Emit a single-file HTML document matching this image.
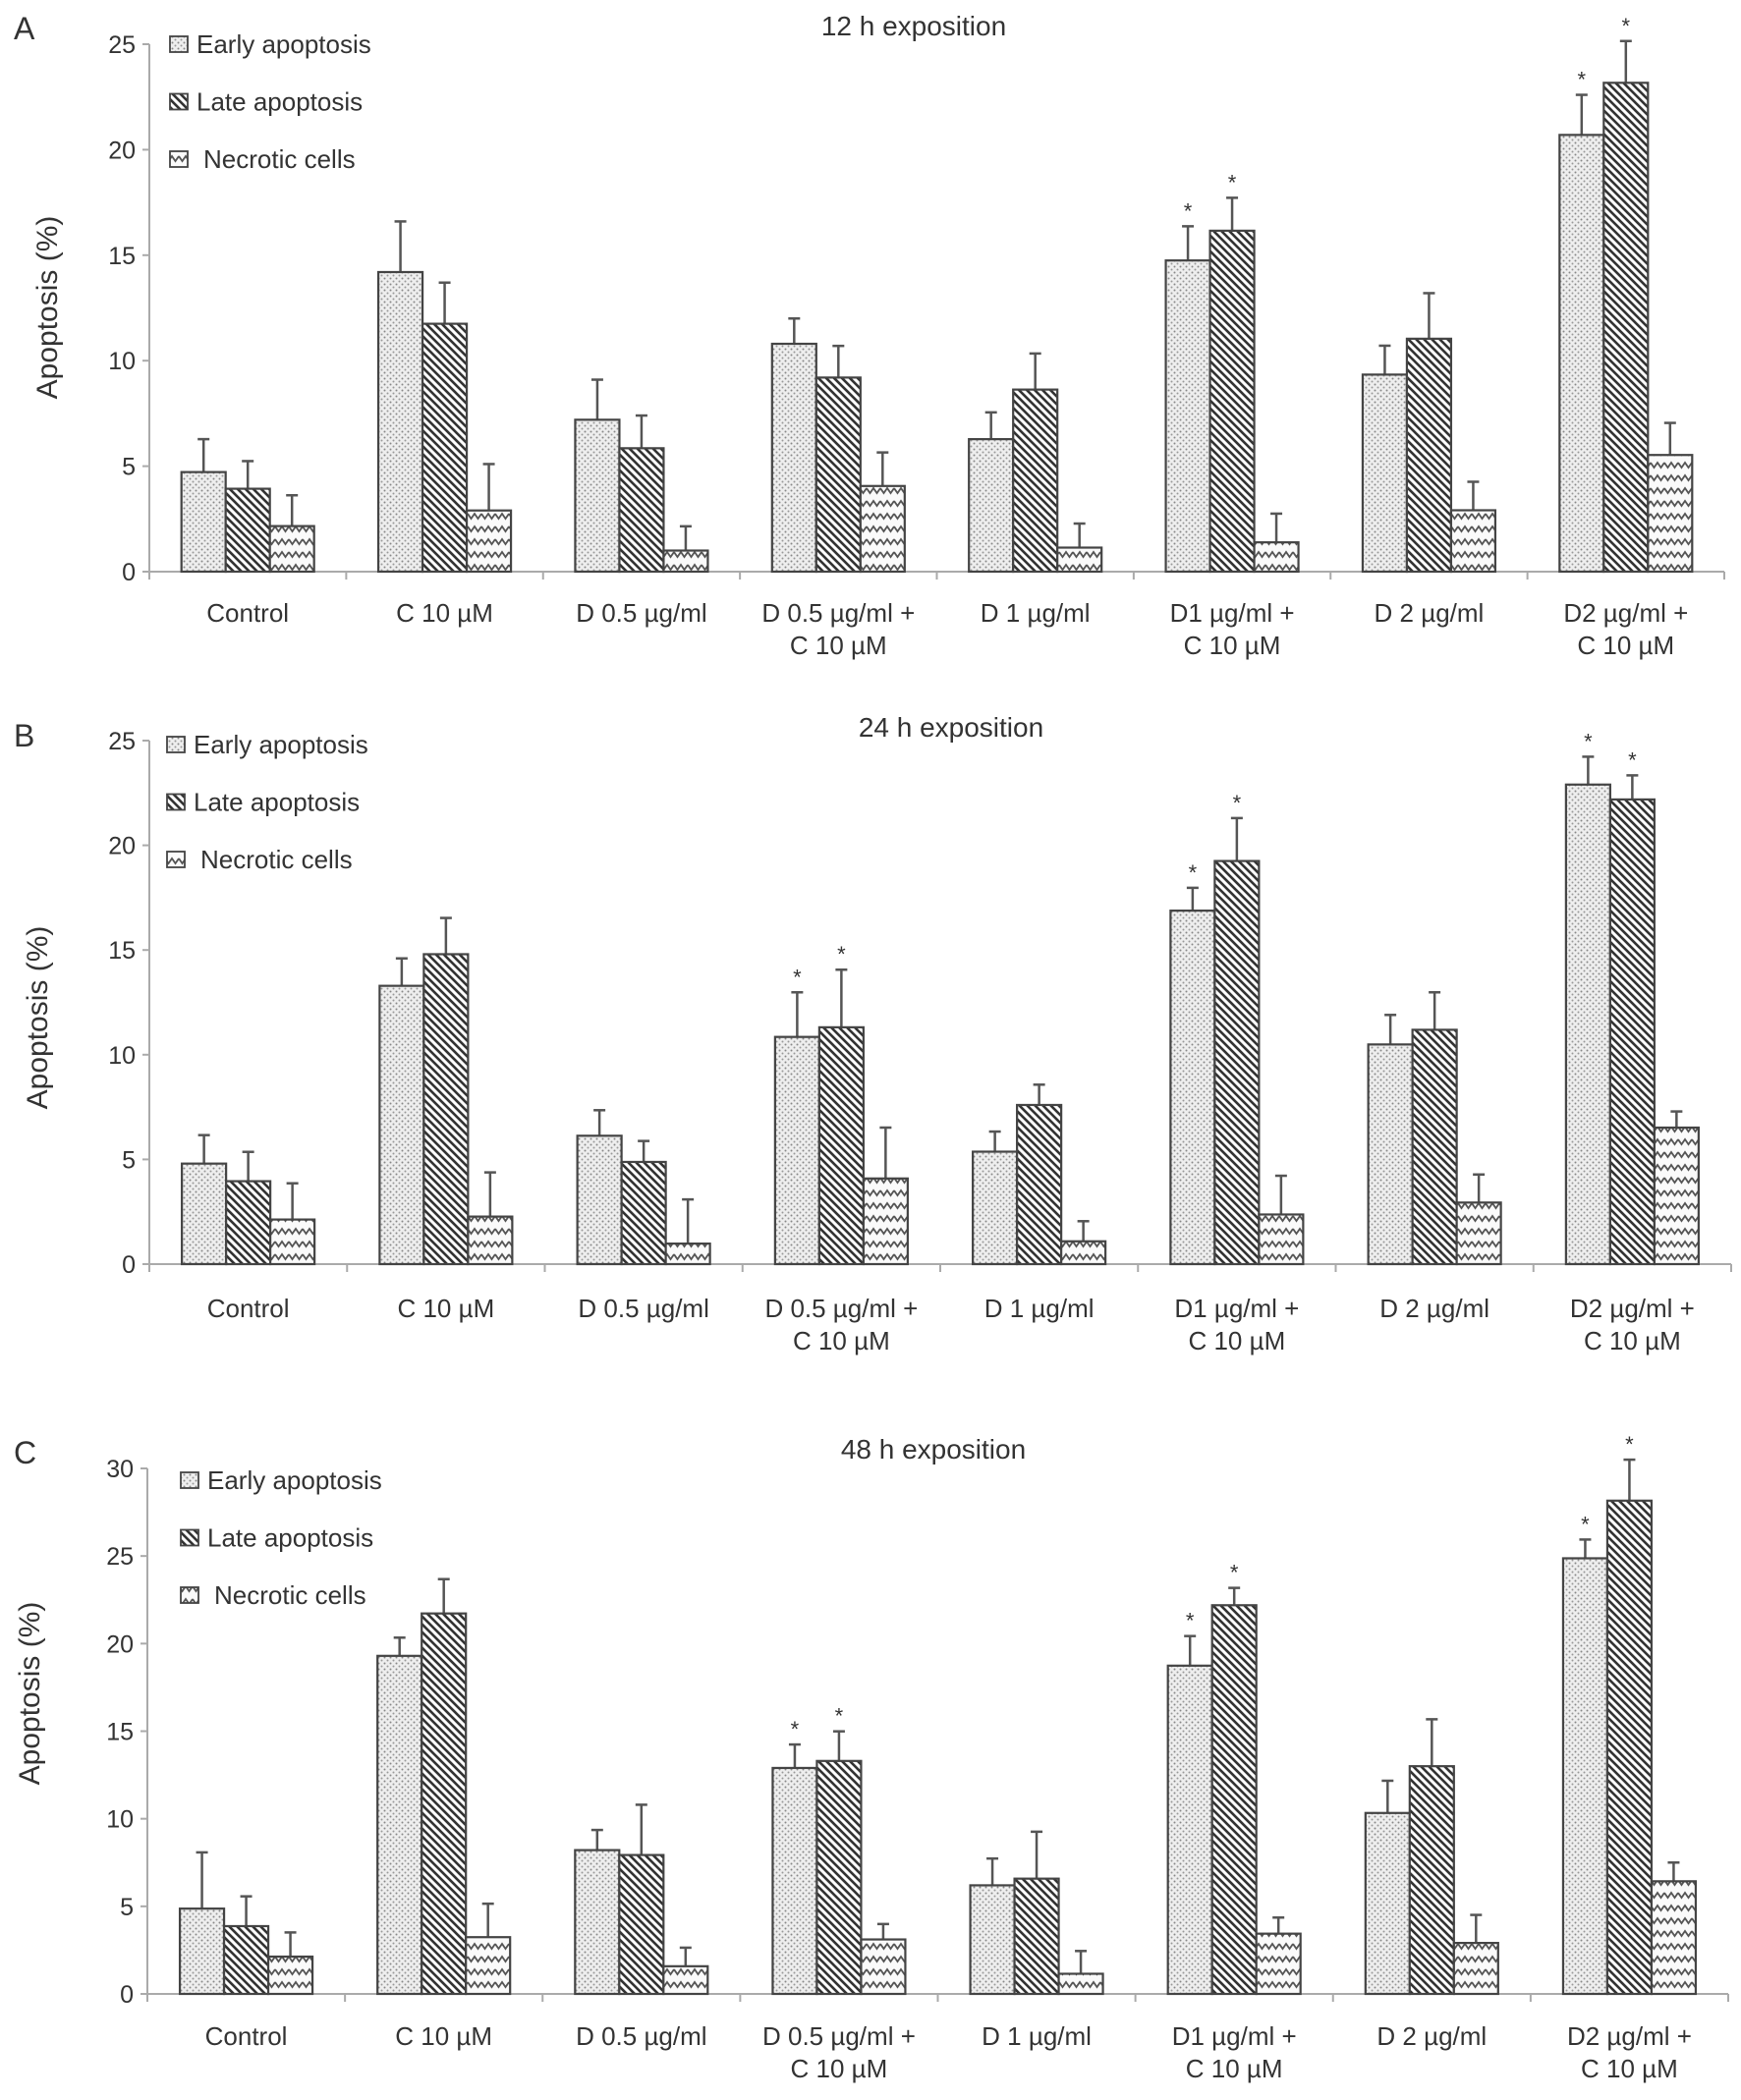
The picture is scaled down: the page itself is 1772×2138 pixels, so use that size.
<!DOCTYPE html>
<html><head><meta charset="utf-8"><style>
html,body{margin:0;padding:0;background:#fff;}
svg text{font-family:"Liberation Sans",Arial,sans-serif;fill:#333;}
</style></head><body>
<svg id="fig" width="1772" height="2133" viewBox="0 0 1772 2133" xmlns="http://www.w3.org/2000/svg">
<defs>
<pattern id="pDots" width="6" height="6" patternUnits="userSpaceOnUse"><rect width="6" height="6" fill="#eee"/><circle cx="1.5" cy="1.5" r="1" fill="#888"/><circle cx="4.5" cy="4.5" r="1" fill="#999"/></pattern>
<pattern id="pDiag" width="8" height="8" patternUnits="userSpaceOnUse"><rect width="8" height="8" fill="#fff"/><path d="M-2,-2 L10,10 M-2,6 L2,10 M6,-2 L10,2" stroke="#333" stroke-width="2.6"/></pattern>
<pattern id="pZig" width="14" height="13" patternUnits="userSpaceOnUse"><rect width="14" height="13" fill="#fafafa"/><path d="M0,3 L3.5,8 L7,3 L10.5,8 L14,3" fill="none" stroke="#555" stroke-width="1.8"/></pattern>
</defs>
<g id="root"></g>
</svg>
<script>
const categories = ["Control","C 10 µM","D 0.5 µg/ml","D 0.5 µg/ml +|C 10 µM","D 1 µg/ml","D1 µg/ml +|C 10 µM","D 2 µg/ml","D2 µg/ml +|C 10 µM"];
const seriesNames = ["Early apoptosis","Late apoptosis","Necrotic cells"];
// Panel A (12 h)
const aEarly = [4.72,14.2,7.2,10.8,6.28,14.75,9.34,20.7];
const aEarlyErr = [6.28,16.6,9.1,12.0,7.55,16.37,10.71,22.6];
const aLate = [3.93,11.75,5.85,9.2,8.63,16.16,11.04,23.17];
const aLateErr = [5.24,13.7,7.4,10.7,10.34,17.72,13.2,25.15];
const aNec = [2.16,2.9,1.0,4.06,1.14,1.39,2.91,5.53];
const aNecErr = [3.62,5.1,2.15,5.65,2.28,2.75,4.26,7.05];
const aStars = [[],[],[],[],[],[0,1],[],[0,1]];
// Panel B (24 h)
const bEarly = [4.8,13.29,6.13,10.85,5.37,16.88,10.49,22.9];
const bEarlyErr = [6.16,14.6,7.35,12.98,6.33,17.97,11.9,24.23];
const bLate = [3.96,14.8,4.88,11.31,7.6,19.25,11.19,22.19];
const bLateErr = [5.36,16.53,5.88,14.06,8.57,21.3,12.98,23.34];
const bNec = [2.13,2.27,0.98,4.09,1.09,2.37,2.94,6.52];
const bNecErr = [3.86,4.38,3.09,6.52,2.05,4.22,4.28,7.29];
const bStars = [[],[],[],[0,1],[],[0,1],[],[0,1]];
// Panel C (48 h)
const cEarly = [4.87,19.3,8.21,12.9,6.2,18.74,10.33,24.87];
const cEarlyErr = [8.08,20.34,9.36,14.24,7.73,20.43,12.17,25.94];
const cLate = [3.87,21.72,7.93,13.3,6.58,22.19,13.0,28.16];
const cLateErr = [5.57,23.68,10.8,14.99,9.26,23.18,15.68,30.5];
const cNec = [2.13,3.24,1.58,3.11,1.15,3.44,2.91,6.43];
const cNecErr = [3.51,5.15,2.64,3.99,2.45,4.36,4.51,7.5];
const cStars = [[],[],[],[0,1],[],[0,1],[],[0,1]];
const ticksAB = [0,5,10,15,20,25];
const ticksC = [0,5,10,15,20,25,30];

const NS="http://www.w3.org/2000/svg";
const root=document.getElementById('root');
function mk(tag,attrs,parent){const e=document.createElementNS(NS,tag);for(const k in attrs)e.setAttribute(k,attrs[k]);(parent||root).appendChild(e);return e;}
const fills=["url(#pDots)","url(#pDiag)","url(#pZig)"];

function panel(cfg){
  const g=mk('g',{});
  
  
  const yScale=v=>cfg.y0-(v/cfg.ymax)*(cfg.y0-cfg.yTop);
  const cw=(cfg.x1-cfg.x0)/categories.length;
  const xCenter=i=>cfg.x0+cw*(i+0.5);
  const bw=45;
  const L=mk('text',{x:cfg.lx,y:cfg.ly,'font-size':32},g);L.textContent=cfg.letter;
  
  
  const T=mk('text',{x:cfg.tx,y:cfg.ty,'font-size':28,'text-anchor':'middle'},g);T.textContent=cfg.title;
  
  
  const ya=mk('line',{x1:cfg.x0,y1:cfg.yTop,x2:cfg.x0,y2:cfg.y0+8,stroke:'#aaa','stroke-width':2},g);
  
  
  const xa=mk('line',{x1:cfg.x0,y1:cfg.y0,x2:cfg.x1,y2:cfg.y0,stroke:'#aaa','stroke-width':2},g);
  
  
  cfg.ticks.forEach(t=>{
    const y=yScale(t);
    mk('line',{x1:cfg.x0-7,y1:y,x2:cfg.x0,y2:y,stroke:'#aaa','stroke-width':2},g);
    const tl=mk('text',{x:cfg.x0-14,y:y+9,'font-size':25,'text-anchor':'end'},g);tl.textContent=t;
    
    
  });
  for(let i=0;i<=categories.length;i++){const x=cfg.x0+cw*i;mk('line',{x1:x,y1:cfg.y0,x2:x,y2:cfg.y0+8,stroke:'#aaa','stroke-width':2},g);}
  const yt=mk('text',{x:0,y:0,'font-size':30,'text-anchor':'middle',transform:`translate(${cfg.ylx},${cfg.yly}) rotate(-90)`},g);yt.textContent='Apoptosis (%)';
  
  
  categories.forEach((c,i)=>{
    const parts=c.split('|');
    parts.forEach((p,j)=>{
      const t=mk('text',{x:xCenter(i),y:cfg.cly+j*33,'font-size':26,'text-anchor':'middle'},g);t.textContent=p;
      
      
    });
  });
  const vals=[cfg.early,cfg.late,cfg.nec], errs=[cfg.earlyErr,cfg.lateErr,cfg.necErr];
  categories.forEach((c,i)=>{
    for(let s=0;s<3;s++){
      const x=xCenter(i)-1.5*bw+s*bw;
      const yv=yScale(vals[s][i]), ye=yScale(errs[s][i]);
      const cx=x+bw/2;
      const el=mk('line',{x1:cx,y1:yv,x2:cx,y2:ye,stroke:'#555','stroke-width':2.5},g);
      
      
      mk('line',{x1:cx-6,y1:ye,x2:cx+6,y2:ye,stroke:'#555','stroke-width':2.5},g);
      const r=mk('rect',{x:x,y:yv,width:bw,height:cfg.y0-yv,fill:fills[s],stroke:'#444','stroke-width':2.2},g);
      
      
      if(cfg.stars[i].includes(s)){
        const st=mk('text',{x:cx,y:ye-8,'font-size':22,'text-anchor':'middle'},g);st.textContent='*';
        
        
      }
    }
  });
  seriesNames.forEach((n,s)=>{
    const y=cfg.legY+s*58.5;
    const b=mk('rect',{x:cfg.legX,y:y-17,width:18,height:16,fill:fills[s],stroke:'#444','stroke-width':1.8},g);
    
    
    const t=mk('text',{x:cfg.legX+(s==2?34:27),y:y,'font-size':26},g);t.textContent=n;
    
    
  });
}
panel({letter:'A',lx:14,ly:40,title:'12 h exposition',tx:930,ty:36,x0:152,x1:1755,y0:582,yTop:45,ymax:25,ticks:ticksAB,ylx:58,yly:313,cly:633,legX:173,legY:54,
  early:aEarly,earlyErr:aEarlyErr,late:aLate,lateErr:aLateErr,nec:aNec,necErr:aNecErr,stars:aStars});
panel({letter:'B',lx:14,ly:760,title:'24 h exposition',tx:968,ty:750,x0:152,x1:1762,y0:1287,yTop:754,ymax:25,ticks:ticksAB,ylx:48,yly:1036,cly:1341,legX:170,legY:767,
  early:bEarly,earlyErr:bEarlyErr,late:bLate,lateErr:bLateErr,nec:bNec,necErr:bNecErr,stars:bStars});
panel({letter:'C',lx:14,ly:1490,title:'48 h exposition',tx:950,ty:1485,x0:150,x1:1759,y0:2030,yTop:1495,ymax:30,ticks:ticksC,ylx:40,yly:1724,cly:2082,legX:184,legY:1516,
  early:cEarly,earlyErr:cEarlyErr,late:cLate,lateErr:cLateErr,nec:cNec,necErr:cNecErr,stars:cStars});
</script>
</body></html>
